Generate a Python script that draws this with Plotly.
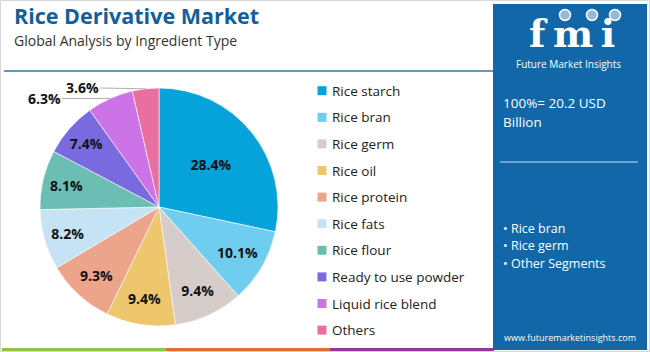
import plotly.graph_objects as go
import math

# ---------------- data ----------------
categories = ["Rice starch", "Rice bran", "Rice germ", "Rice oil", "Rice protein",
              "Rice fats", "Rice flour", "Ready to use powder", "Liquid rice blend", "Others"]
shares = [28.4, 10.1, 9.4, 9.4, 9.3, 8.2, 8.1, 7.4, 6.3, 3.6]
colors = ["#06a2da", "#6fcdf0", "#d6cdcb", "#edc66d", "#eca48a",
          "#c5e3f4", "#6cbdb3", "#7a6ae0", "#cc73e8", "#e86fa0"]
outside_labels = ["Liquid rice blend", "Others"]
title = "Rice Derivative Market"
subtitle = "Global Analysis by Ingredient Type"
total_text = ["100%= 20.2 USD", "Billion"]
bullets = ["Rice bran", "Rice germ", "Other Segments"]

W, H = 650, 352
FONT = "Open Sans"


def X(px):
    return px / W


def Y(py):
    return 1 - py / H


# pie geometry (pixels)
cx, cy, r = 159, 207, 119

inside_text = ["" if c in outside_labels else f"{v}%" for c, v in zip(categories, shares)]

fig = go.Figure()
fig.add_trace(go.Pie(
    labels=categories, values=shares, text=inside_text, textinfo="text",
    textposition="inside", insidetextorientation="horizontal",
    sort=False, direction="clockwise", rotation=0,
    marker=dict(colors=colors, line=dict(color="white", width=0.6)),
    insidetextfont=dict(family=FONT, size=14, color="#111", weight="bold"),
    domain=dict(x=[X(cx - r), X(cx + r)], y=[Y(cy + r), Y(cy - r)]),
    showlegend=False, hoverinfo="label+percent",
))

shapes = []
annotations = []

# outside labels with leader lines (edge points derived from data)
total = sum(shares)
label_offsets = {"Liquid rice blend": (-66, 0), "Others": (-63, -1)}
cum = 0
for c, v in zip(categories, shares):
    start = cum
    cum += v
    if c in outside_labels:
        th = 2 * math.pi * (start + v / 2) / total
        ex = cx + r * math.sin(th)
        ey = cy - r * math.cos(th)
        ax, ay = label_offsets[c]
        annotations.append(dict(
            x=X(ex), y=Y(ey), xref="paper", yref="paper", text=f"<b>{v}%</b>",
            showarrow=True, arrowhead=0, arrowwidth=0.8, arrowcolor="#9a9a9a",
            ax=ax, ay=ay, standoff=0, startstandoff=0,
            font=dict(family=FONT, size=14, color="#111")))

# page border
shapes.append(dict(type="rect", xref="paper", yref="paper", x0=X(0.5), x1=X(649.5),
                   y0=Y(351.5), y1=Y(0.5), line=dict(color="#d8d8d8", width=1)))
# top divider line
shapes.append(dict(type="line", xref="paper", yref="paper", x0=X(4), x1=X(493),
                   y0=Y(71), y1=Y(71), line=dict(color="#2d79ad", width=1.5)))
# bottom colour bar
bar_cols = ["#8fc14f", "#e4693d", "#8e3b98"]
seg = (494 - 2) / 3
for i, bc in enumerate(bar_cols):
    shapes.append(dict(type="rect", xref="paper", yref="paper",
                       x0=X(2 + i * seg), x1=X(2 + (i + 1) * seg),
                       y0=Y(351), y1=Y(348), line=dict(width=0), fillcolor=bc))

# right panel
PANEL = "#1167a8"
shapes.append(dict(type="rect", xref="paper", yref="paper", x0=X(493), x1=X(647),
                   y0=Y(350), y1=Y(4), line=dict(width=0), fillcolor=PANEL, layer="below"))

# title & subtitle
annotations.append(dict(x=X(12), y=Y(16), xref="paper", yref="paper", xanchor="left",
                        yanchor="middle", showarrow=False, text=f"<b>{title}</b>",
                        font=dict(family=FONT, size=21.5, color="#135f9b")))
annotations.append(dict(x=X(12), y=Y(40.3), xref="paper", yref="paper", xanchor="left",
                        yanchor="middle", showarrow=False, text=subtitle,
                        font=dict(family=FONT, size=14, color="#333333")))

# manual legend
for i, (c, col) in enumerate(zip(categories, colors)):
    yc = 90.7 + i * 26.6
    shapes.append(dict(type="rect", xref="paper", yref="paper", x0=X(317.5), x1=X(326.5),
                       y0=Y(yc + 4.5), y1=Y(yc - 4.5), line=dict(width=0), fillcolor=col))
    annotations.append(dict(x=X(330.5), y=Y(yc), xref="paper", yref="paper", xanchor="left",
                            yanchor="middle", showarrow=False, text=c,
                            font=dict(family=FONT, size=13.5, color="#222222")))

# logo
annotations.append(dict(x=X(572), y=Y(34), xref="paper", yref="paper", xanchor="center",
                        yanchor="middle", showarrow=False, text="<b>f\u2009m\u2009i</b>",
                        font=dict(family="DejaVu Serif", size=38, color="white")))
for k in range(10):
    yy = 20 + k * 3
    shapes.append(dict(type="line", xref="paper", yref="paper", x0=X(508), x1=X(636),
                       y0=Y(yy), y1=Y(yy), line=dict(color=PANEL, width=0.8)))
for gx in (565, 592, 615):
    shapes.append(dict(type="circle", xref="paper", yref="paper", x0=X(gx - 5.5), x1=X(gx + 5.5),
                       y0=Y(20.5), y1=Y(9.5), line=dict(color="white", width=1.5),
                       fillcolor="rgba(255,255,255,0.55)"))
annotations.append(dict(x=X(568), y=Y(63.5), xref="paper", yref="paper", xanchor="center",
                        yanchor="middle", showarrow=False, text="Future Market Insights",
                        font=dict(family=FONT, size=10, color="white")))

# panel texts
for j, t in enumerate(total_text):
    annotations.append(dict(x=X(501), y=Y(103 + j * 19), xref="paper", yref="paper",
                            xanchor="left", yanchor="middle", showarrow=False, text=t,
                            font=dict(family=FONT, size=13.5, color="white")))
shapes.append(dict(type="line", xref="paper", yref="paper", x0=X(500), x1=X(638),
                   y0=Y(162), y1=Y(162), line=dict(color="rgba(255,255,255,0.8)", width=1.2)))
for j, b in enumerate(bullets):
    annotations.append(dict(x=X(501), y=Y(228 + j * 17.5), xref="paper", yref="paper",
                            xanchor="left", yanchor="middle", showarrow=False, text="• " + b,
                            font=dict(family=FONT, size=12.5, color="white")))
annotations.append(dict(x=X(570), y=Y(337), xref="paper", yref="paper", xanchor="center",
                        yanchor="middle", showarrow=False, text="www.futuremarketinsights.com",
                        font=dict(family=FONT, size=9, color="white")))

fig.update_layout(
    width=W, height=H, margin=dict(l=0, r=0, t=0, b=0),
    paper_bgcolor="white", plot_bgcolor="white",
    shapes=shapes, annotations=annotations, showlegend=False,
)

fig.write_html("out.html")
